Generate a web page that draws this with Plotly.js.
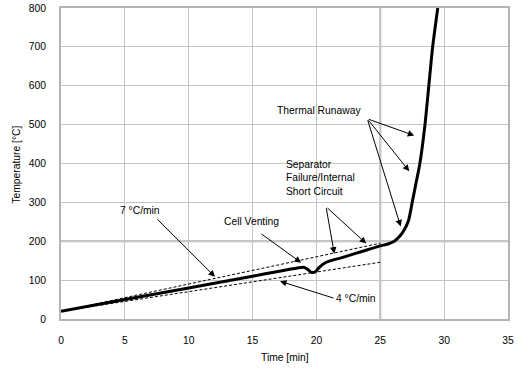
<!DOCTYPE html>
<html>
<head>
<meta charset="utf-8">
<script src="https://cdn.plot.ly/plotly-3.0.1.min.js"></script>
<style>html,body{margin:0;padding:0;background:#fff;}#chart{width:519px;height:374px;}</style>
</head>
<body>
<div id="chart"></div>
<script>
// Measured temperature curve
var timeMin = [0, 5, 10, 15, 17.1, 18.5, 19.0, 19.3, 19.6, 19.9, 20.2, 20.6, 21.0, 22, 23, 24, 25, 25.6, 26.1, 26.5, 26.8, 27.2, 27.5, 27.8, 28.1, 28.5, 28.8, 29.1, 29.5];
var tempC   = [20, 50, 80, 110, 123, 131, 133, 128, 120, 121, 132, 143, 149, 158, 168, 178, 188, 193, 200, 212, 225, 252, 300, 350, 400, 500, 600, 700, 800];
// Reference heating-rate lines
var rateTime = [0, 25];
var rate7 = [20, 195];
var rate4 = [20, 146];
// Axis ticks
var xTicks = [0, 5, 10, 15, 20, 25, 30, 35];
var yTicks = [0, 100, 200, 300, 400, 500, 600, 700, 800];
// Labels
var labels = {
  x: 'Time [min]',
  y: 'Temperature [°C]',
  r7: '7 °C/min',
  r4: '4 °C/min',
  vent: 'Cell Venting',
  sep: 'Separator<br>Failure/Internal<br>Short Circuit',
  tr: 'Thermal Runaway'
};

var font = {family: 'Liberation Sans, Arial, sans-serif', size: 10.3, color: '#000'};

var traces = [
  {x: rateTime, y: rate7, mode: 'lines', line: {color: '#000', width: 1, dash: '3px,2px'}, hoverinfo: 'skip'},
  {x: rateTime, y: rate4, mode: 'lines', line: {color: '#000', width: 1, dash: '3px,2px'}, hoverinfo: 'skip'},
  {x: timeMin, y: tempC, mode: 'lines', line: {color: '#000', width: 3, shape: 'spline', smoothing: 0.6}, hoverinfo: 'skip'}
];

function arrow(tx, ty, hx, hy) {
  return {x: hx, y: hy, ax: tx, ay: ty, xref: 'x', yref: 'y', axref: 'x', ayref: 'y',
    text: '', showarrow: true, arrowhead: 2, arrowsize: 1.3, arrowwidth: 1, arrowcolor: '#000', standoff: 0, startstandoff: 0};
}
function label(txt, px, py, align, xanchor) {
  return {x: (px - 61) / 447, y: (319.5 - py) / 311.2, xref: 'paper', yref: 'paper',
    text: txt, showarrow: false, xanchor: xanchor || 'center', yanchor: 'middle', align: align || 'center', font: font};
}

var annotations = [
  arrow(7.44, 260, 12.06, 108.4),
  arrow(15.58, 221.5, 18.8, 145),
  arrow(20.75, 289, 21.4, 168),
  arrow(20.75, 289, 23.9, 194),
  arrow(23.98, 515, 27.66, 472),
  arrow(23.98, 515, 27.27, 380),
  arrow(23.98, 515, 26.6, 238),
  arrow(21.45, 52.7, 17.15, 97),
  label(labels.r7, 140, 211),
  label(labels.vent, 251, 221.7),
  label(labels.sep, 284, 178, 'left', 'left'),
  label(labels.tr, 319, 111),
  label(labels.r4, 356, 299),
  label(labels.x, 285, 358),
  Object.assign(label(labels.y, 17, 165), {textangle: -90})
];

var shapes = [
  {type: 'line', xref: 'x', yref: 'paper', x0: 25, x1: 25, y0: 0, y1: 1, line: {color: '#b4b4b4', width: 2}, layer: 'below'},
  {type: 'line', xref: 'paper', yref: 'y', x0: 0, x1: 1, y0: 200, y1: 200, line: {color: '#b4b4b4', width: 2}, layer: 'below'}
];

var layout = {
  width: 519, height: 374,
  margin: {l: 61, r: 11, t: 8, b: 54.5},
  paper_bgcolor: '#fff', plot_bgcolor: '#fff',
  showlegend: false,
  font: font,
  xaxis: {range: [0, 35], tickvals: xTicks, ticktext: xTicks.map(String), showgrid: true, gridcolor: '#c4c4c4', gridwidth: 1,
    zeroline: false, showline: true, linecolor: '#b4b4b4', linewidth: 2, mirror: true, ticks: '', ticklabelstandoff: 11, tickfont: font, fixedrange: true},
  yaxis: {range: [0, 800], tickvals: yTicks, ticktext: yTicks.map(String), showgrid: true, gridcolor: '#c4c4c4', gridwidth: 1,
    zeroline: false, showline: true, linecolor: '#b4b4b4', linewidth: 2, mirror: true, ticks: '', ticklabelstandoff: 11, tickfont: font, fixedrange: true},
  annotations: annotations,
  shapes: shapes
};

Plotly.newPlot('chart', traces, layout, {staticPlot: true, displayModeBar: false});
</script>
</body>
</html>
